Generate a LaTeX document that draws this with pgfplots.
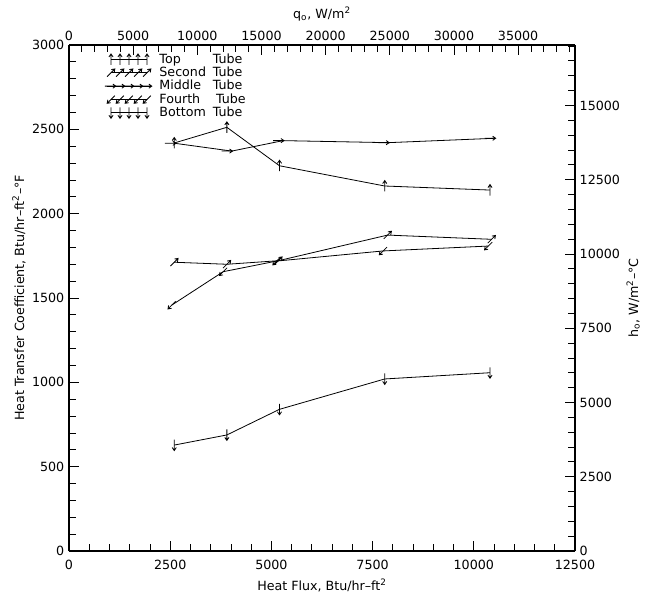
\documentclass[border=0pt]{standalone}
\usepackage{pgfplots}
\pgfplotsset{compat=1.18}
\usepackage{fontspec}
\setmainfont{DejaVu Sans}

% Arrow-shaped plot marks, one per tube row (rotation in degrees,
% offset of the arrow centre along its own direction)
\newcommand\declarearrowmark[3]{%
  \pgfdeclareplotmark{#1}{%
    \pgftransformrotate{#2}%
    \pgftransformshift{\pgfqpoint{0pt}{#3\pgfplotmarksize}}%
    \pgfpathmoveto{\pgfqpoint{0pt}{-\pgfplotmarksize}}%
    \pgfpathlineto{\pgfqpoint{0pt}{\pgfplotmarksize}}%
    \pgfpathmoveto{\pgfqpoint{-0.38\pgfplotmarksize}{0.45\pgfplotmarksize}}%
    \pgfpathlineto{\pgfqpoint{0pt}{\pgfplotmarksize}}%
    \pgfpathlineto{\pgfqpoint{0.38\pgfplotmarksize}{0.45\pgfplotmarksize}}%
    \pgfusepathqstroke}}
\declarearrowmark{arrup}{0}{0}
\declarearrowmark{arrne}{-45}{0}
\declarearrowmark{arrright}{-90}{-0.85}
\declarearrowmark{arrsw}{135}{0}
\declarearrowmark{arrdown}{180}{0}

\newcommand\lbl{\fontsize{9.5}{11}\selectfont}
% legend text: row name in a fixed-width slot, then "Tube"
\newcommand\tubeentry[2][40pt]{\hspace*{4.5pt}\makebox[#1][l]{#2}Tube}

\begin{document}
\begin{tikzpicture}
\pgfplotsset{
  every axis/.append style={
    scale only axis, width=379.5pt, height=379.5pt,
    axis line style={line width=0.8pt},
    tick style={line width=0.6pt, black},
    major tick length=7.5pt, minor tick length=5pt,
    tick align=inside,
    scaled ticks=false,
    /pgf/number format/1000 sep={},
    /pgf/number format/assume math mode=true,
    tick label style={font=\lbl},
    label style={font=\lbl},
  },
  tube/.style={black, line width=0.6pt, mark size=4.1pt,
    mark options={solid, line width=0.6pt}},
  % legend sample: a short line carrying five marks
  rowlegend/.style={legend image code/.code={%
    \draw[##1] plot coordinates {(0pt,0pt)(6.75pt,0pt)(13.5pt,0pt)(20.25pt,0pt)(27pt,0pt)};}},
  % same for the middle row, whose arrow tips sit on the points
  midlegend/.style={legend image code/.code={%
    \draw[##1, mark=none] (-3pt,0pt) -- (30pt,0pt);
    \draw[##1, only marks] plot coordinates {(3pt,0pt)(9.75pt,0pt)(16.5pt,0pt)(23.25pt,0pt)(30pt,0pt)};}},
}
\begin{axis}[
  xmin=0, xmax=12500, ymin=0, ymax=3000,
  axis x line*=bottom, axis y line*=left,
  xtick={0,2500,...,12500}, minor x tick num=4,
  ytick={0,500,...,3000}, minor y tick num=4,
  xticklabel style={yshift=-3pt},
  ylabel shift=-2pt,
  xlabel={Heat Flux, Btu/hr--ft\textsuperscript{2}},
  ylabel={Heat Transfer Coefficient, Btu/hr--ft\textsuperscript{2}--°F},
  legend style={draw=none, fill=none, font=\lbl,
    at={(axis cs:880,2960)}, anchor=north west,
    row sep=-1.1pt, inner sep=0pt,
    nodes={inner sep=1.2pt}},
  legend cell align=left,
]
% Top tube
\addplot[tube, rowlegend, mark=arrup] coordinates {
  (2600,2419) (3900,2512) (5200,2284) (7800,2164) (10400,2140)};
\addlegendentry{\tubeentry{Top}}
% Second tube
\addplot[tube, rowlegend, mark=arrne] coordinates {
  (2600,1712) (3900,1700) (5170,1721) (7870,1873) (10440,1848)};
\addlegendentry{\tubeentry{Second}}
% Middle tube
\addplot[tube, midlegend, mark=arrright] coordinates {
  (2620,2417) (4020,2371) (5290,2433) (7890,2421) (10520,2447)};
\addlegendentry{\tubeentry{Middle}}
% Fourth tube
\addplot[tube, rowlegend, mark=arrsw] coordinates {
  (2540,1458) (3810,1656) (5130,1719) (7760,1779) (10360,1808)};
\addlegendentry{\tubeentry[42.5pt]{Fourth}}
% Bottom tube
\addplot[tube, rowlegend, mark=arrdown] coordinates {
  (2600,628) (3900,688) (5200,840) (7800,1020) (10400,1057)};
\addlegendentry{\tubeentry{Bottom}}
\end{axis}

% SI scales: 1 Btu/hr-ft2 = 3.1546 W/m2, 1 Btu/hr-ft2-F = 5.6783 W/m2-C
\begin{axis}[
  xmin=0, xmax=39432, ymin=0, ymax=17035,
  axis x line*=top, axis y line*=right,
  xtick={0,5000,...,35000}, minor xtick={1000,2000,...,39000},
  ytick={0,2500,...,15000}, minor ytick={500,1000,...,17000},
  ylabel shift=-2pt,
  xlabel={q\textsubscript{o}, W/m\textsuperscript{2}},
  ylabel={h\textsubscript{o}, W/m\textsuperscript{2}--°C},
]
\end{axis}

\pgfresetboundingbox
\path ([shift={(-51.75pt,-36.75pt)}]current axis.south west)
  rectangle ([shift={(55.5pt,33.75pt)}]current axis.north east);
\end{tikzpicture}
\end{document}
